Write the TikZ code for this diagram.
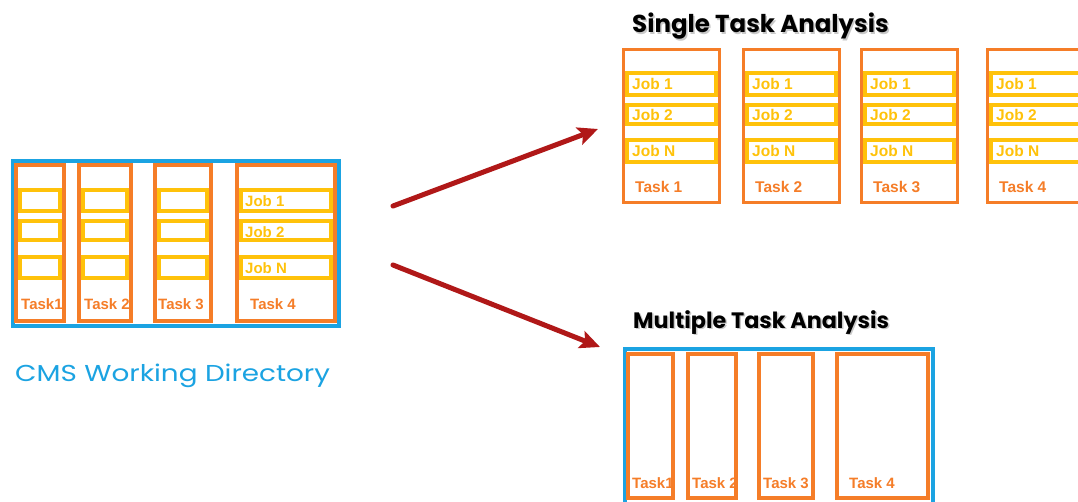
\documentclass[tikz,border=0pt]{standalone}
\usepackage{fontspec}
\setmainfont{Liberation Sans}
\newfontfamily\gothic{Poppins}
\usetikzlibrary{arrows.meta}

\definecolor{taskorange}{RGB}{245,125,40}
\definecolor{jobyellow}{RGB}{255,194,10}
\definecolor{dirblue}{RGB}{27,163,226}
\definecolor{flowred}{RGB}{176,24,24}

\tikzset{
  frame/.style={rectangle, inner sep=0pt, outer sep=0pt, fill=white},
  dirbox/.style={frame, draw=dirblue, line width=4pt},
  taskbox/.style={frame, draw=taskorange, line width=4pt},
  taskboxthin/.style={frame, draw=taskorange, line width=3pt},
  jobbox/.style={frame, draw=jobyellow, line width=3.5pt},
  jobboxthick/.style={frame, draw=jobyellow, line width=4pt},
  tasklabel/.style={anchor=base west, inner sep=0pt, text=taskorange,
    font=\fontsize{15}{17}\selectfont\bfseries},
  tasklabelbig/.style={tasklabel, font=\fontsize{15.5}{17}\selectfont\bfseries},
  joblabel/.style={anchor=west, inner sep=0pt, text=jobyellow,
    font=\fontsize{15}{17}\selectfont\bfseries},
  title/.style={anchor=base west, inner sep=0pt},
  flow/.style={draw=flowred, line width=5pt, line cap=round,
    -{Stealth[length=20pt, width=18pt, inset=4pt]}},
}

% rectangle node from the path corners (x1,y1) and (x2,y2)
\newcommand\rbox[6]{%
  \node[#2, minimum width={(#5)-(#3)}, minimum height={(#6)-(#4)}] (#1)
    at ({((#3)+(#5))/2},{((#4)+(#6))/2}) {};}

\begin{document}
\begin{tikzpicture}[x=1pt, y=-1pt]
\clip (0,0) rectangle (1078,502);
\fill[white] (0,0) rectangle (1078,502);

% ---------- CMS working directory ----------
\rbox{cms}{dirbox}{13}{161}{339}{326}
\foreach \n/\a/\b in {1/16/64, 2/79/131, 3/155/211, 4/237/335}{
  \rbox{c\n}{taskbox}{\a}{165}{\b}{321}
  \rbox{c\n j1}{jobbox}{\a+4}{190}{\b-4}{211}
  \rbox{c\n j2}{jobbox}{\a+4}{221}{\b-4}{240}
  \rbox{c\n j3}{jobbox}{\a+4}{257}{\b-4}{278}
}
\node[joblabel] (cj1) at (245,201) {Job 1};
\node[joblabel] (cj2) at (245,232) {Job 2};
\node[joblabel] (cj3) at (245,268) {Job N};
\node[tasklabel] (ct1) at (21,310) {Task1};
\node[tasklabel] (ct2) at (84,310) {Task 2};
\node[tasklabel] (ct3) at (158,310) {Task 3};
\node[tasklabel] (ct4) at (250,310) {Task 4};
\node[anchor=base west, inner sep=0pt, text=dirblue,
  font=\gothic\fontsize{23}{26}\selectfont] (cmsname) at (15,381)
  {\scalebox{1.21}[1]{CMS Working Directory}};

% ---------- arrows ----------
\coordinate (u0) at (393,206);
\coordinate (u1) at (598,129);
\coordinate (d0) at (393,265);
\coordinate (d1) at (600,347);
\draw[flow] (u0) -- (u1);
\draw[flow] (d0) -- (d1);

% ---------- single task analysis ----------
\tikzset{singlefont/.style={font=\gothic\fontsize{24.5}{27}\selectfont\bfseries}}
\node[title, singlefont, text=black!35, opacity=0.6] at (633.5,34.5) {Single Task Analysis};
\node[title, singlefont] (stitle) at (632,33) {Single Task Analysis};
\foreach \n/\a/\b/\t in {1/623.5/719.5/Task 1, 2/743.5/839.5/Task 2,
                         3/861.5/957.5/Task 3, 4/987.5/1083.5/Task 4}{
  \rbox{s\n}{taskboxthin}{\a}{49.5}{\b}{202.5}
  \rbox{s\n j1}{jobboxthick}{\a+3.5}{73}{\b-3.5}{95}
  \rbox{s\n j2}{jobboxthick}{\a+3.5}{105}{\b-3.5}{124}
  \rbox{s\n j3}{jobboxthick}{\a+3.5}{140}{\b-3.5}{162}
  \node[joblabel, font=\fontsize{15.5}{17}\selectfont\bfseries] (s\n l1) at (\a+8.5,84) {Job 1};
  \node[joblabel, font=\fontsize{15.5}{17}\selectfont\bfseries] (s\n l2) at (\a+8.5,115) {Job 2};
  \node[joblabel, font=\fontsize{15.5}{17}\selectfont\bfseries] (s\n l3) at (\a+8.5,151) {Job N};
  \node[tasklabelbig] (s\n t) at (\a+11.5,193) {\t};
}

% ---------- multiple task analysis ----------
\tikzset{multifont/.style={font=\gothic\fontsize{22.3}{25}\selectfont\bfseries}}
\node[title, multifont, text=black!35, opacity=0.6] at (634.5,329.5) {Multiple Task Analysis};
\node[title, multifont] (mtitle) at (633,328) {Multiple Task Analysis};
\rbox{multi}{dirbox}{625}{349}{933}{515}
\rbox{m1}{taskbox}{628}{354}{673}{498}
\rbox{m2}{taskbox}{688}{354}{736}{498}
\rbox{m3}{taskbox}{759}{354}{813}{498}
\rbox{m4}{taskbox}{837}{354}{928}{498}
\node[tasklabel] (mt1) at (632,488) {Task1};
\node[tasklabel] (mt2) at (692,488) {Task 2};
\node[tasklabel] (mt3) at (763,488) {Task 3};
\node[tasklabel] (mt4) at (849,488) {Task 4};
\end{tikzpicture}
\end{document}
